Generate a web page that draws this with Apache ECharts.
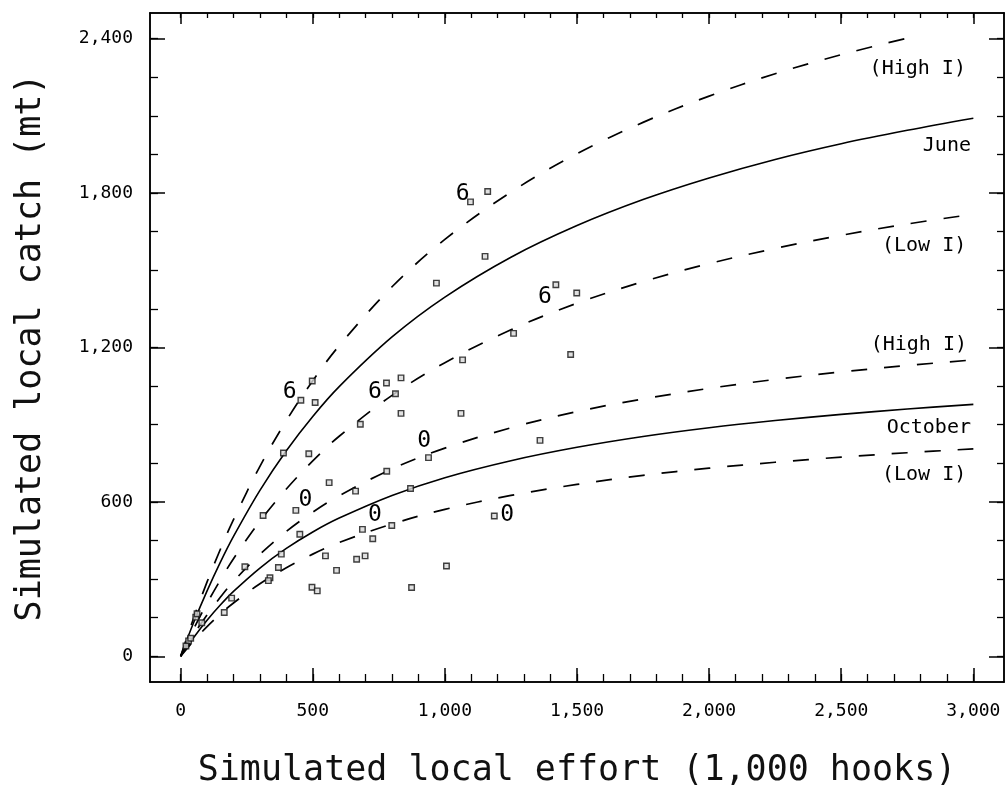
<!DOCTYPE html>
<html>
<head>
<meta charset="utf-8">
<script src="https://cdn.jsdelivr.net/npm/echarts@6/dist/echarts.min.js"></script>
<style>
  html, body { margin: 0; padding: 0; background: #fff; }
  #chart { width: 1007px; height: 790px; }
</style>
</head>
<body>
<div id="chart"></div>
<script>
// Effort values (1,000 hooks) at which the fitted curves are sampled
const effortGrid = [0, 50, 100, 150, 200, 300, 400, 500, 600, 800, 1000, 1250, 1500, 1750, 2000, 2250, 2500, 2750, 3000];
const juneHighEffort = [0, 50, 100, 150, 200, 300, 400, 500, 600, 800, 1000, 1250, 1500, 1750, 2000, 2250, 2500, 2780];

// Catch curves (mt)
const juneHigh   = [0, 151, 289, 415, 531, 738, 916, 1071, 1207, 1436, 1620, 1804, 1953, 2075, 2177, 2264, 2338, 2410];
const juneMid    = [0, 133, 254, 365, 466, 645, 799, 932, 1048, 1241, 1396, 1551, 1674, 1775, 1859, 1931, 1992, 2044, 2091];
const juneLow    = [0, 108, 206, 296, 379, 525, 650, 759, 855, 1014, 1141, 1269, 1372, 1456, 1526, 1585, 1636, 1680, 1718];
const octHigh    = [0, 85, 161, 229, 291, 396, 485, 560, 624, 728, 809, 888, 951, 1000, 1041, 1076, 1105, 1130, 1152];
const octMid     = [0, 74, 140, 199, 252, 343, 419, 483, 537, 625, 694, 760, 812, 854, 888, 916, 940, 961, 979];
const octLow     = [0, 61, 115, 164, 207, 282, 344, 397, 442, 514, 571, 625, 668, 703, 731, 754, 774, 791, 806];

// Simulated observations
const obsEffort = [498, 455, 509, 389, 485, 562, 436, 312, 779, 813, 834, 680, 834, 1061, 780, 662, 870,
                   968, 1420, 1499, 1260, 1476, 1067, 1152, 1162, 1097, 1360, 938, 451, 688, 799, 727, 1187,
                   381, 548, 698, 666, 243, 370, 590, 1006, 338, 332, 497, 517, 874, 193, 165, 57, 62, 80, 30, 38, 20];
const obsCatch  = [1070, 995, 986, 790, 787, 675, 567, 547, 1062, 1020, 1082, 902, 944, 944, 719, 642, 652,
                   1450, 1444, 1412, 1255, 1173, 1152, 1554, 1806, 1766, 839, 772, 474, 493, 508, 457, 545,
                   397, 390, 390, 377, 348, 345, 334, 351, 305, 294, 268, 254, 267, 226, 170, 152, 165, 130, 60, 70, 40];

// Month markers written beside selected observations
const tagEffort = [413, 735, 1067, 1379, 472, 922, 735, 1236];
const tagCatch  = [1026, 1026, 1796, 1395, 607, 836, 549, 549];
const tagText   = ['6', '6', '6', '6', '0', '0', '0', '0'];

// Curve names at the right-hand end
const curveNameEffort = [2972, 2991, 2973, 2976, 2991, 2973];
const curveNameCatch  = [2284, 1983, 1596, 1212, 886, 707];
const curveNameText   = ['(High I)', 'June', '(Low I)', '(High I)', 'October', '(Low I)'];

// Axis ticks and labels
const xMajorTicks = [0, 500, 1000, 1500, 2000, 2500, 3000];
const yMajorTicks = [0, 600, 1200, 1800, 2400];
const xMinorTicks = [];
for (let v = 0; v <= 3000; v += 100) xMinorTicks.push(v);
const yMinorTicks = [];
for (let v = 0; v <= 2400; v += 150) yMinorTicks.push(v);

const X_MIN = -116, X_MAX = 3116;
const Y_MIN = -100, Y_MAX = 2500;
const FONT = 'DejaVu Sans Mono';
const INK = '#000';

const zip = (xs, ys) => xs.map((x, i) => [x, ys[i]]);
const withComma = v => String(v).replace(/\B(?=(\d{3})+(?!\d))/g, ',');

function tickAxis(opts) {
  return Object.assign({
    type: 'value',
    gridIndex: 0,
    splitLine: { show: false },
    axisLine: { show: true, onZero: false, lineStyle: { color: INK, width: 1.5 } },
    axisLabel: { show: false },
    nameMoveOverlap: false
  }, opts);
}

const xAxes = [
  tickAxis({
    min: X_MIN, max: X_MAX, position: 'bottom',
    axisTick: { show: true, inside: true, length: 14, customValues: xMajorTicks, lineStyle: { color: INK, width: 1.5 } },
    axisLabel: { show: true, customValues: xMajorTicks, formatter: withComma, margin: 20,
                 fontFamily: FONT, fontSize: 18, color: INK },
    name: 'Simulated local effort (1,000 hooks)',
    nameLocation: 'middle', nameGap: 71,
    nameTextStyle: { fontFamily: FONT, fontSize: 35, color: '#111' }
  }),
  tickAxis({
    min: X_MIN, max: X_MAX, position: 'bottom',
    axisTick: { show: true, inside: true, length: 8, customValues: xMinorTicks, lineStyle: { color: INK, width: 1.3 } }
  }),
  tickAxis({
    min: X_MIN, max: X_MAX, position: 'top',
    axisTick: { show: true, inside: true, length: 11, customValues: xMajorTicks, lineStyle: { color: INK, width: 1.5 } }
  }),
  tickAxis({
    min: X_MIN, max: X_MAX, position: 'top',
    axisTick: { show: true, inside: true, length: 5, customValues: xMinorTicks, lineStyle: { color: INK, width: 1.3 } }
  })
];

const yAxes = [
  tickAxis({
    min: Y_MIN, max: Y_MAX, position: 'left',
    axisTick: { show: true, inside: true, length: 15, customValues: yMajorTicks, lineStyle: { color: INK, width: 1.5 } },
    axisLabel: { show: true, customValues: yMajorTicks, formatter: withComma, margin: 17,
                 fontFamily: FONT, fontSize: 18, color: INK },
    name: 'Simulated local catch (mt)',
    nameLocation: 'middle', nameGap: 102,
    nameTextStyle: { fontFamily: FONT, fontSize: 35, color: '#111' }
  }),
  tickAxis({
    min: Y_MIN, max: Y_MAX, position: 'left',
    axisTick: { show: true, inside: true, length: 8, customValues: yMinorTicks, lineStyle: { color: INK, width: 1.3 } }
  }),
  tickAxis({
    min: Y_MIN, max: Y_MAX, position: 'right',
    axisTick: { show: true, inside: true, length: 15, customValues: yMajorTicks, lineStyle: { color: INK, width: 1.5 } }
  }),
  tickAxis({
    min: Y_MIN, max: Y_MAX, position: 'right',
    axisTick: { show: true, inside: true, length: 7, customValues: yMinorTicks, lineStyle: { color: INK, width: 1.3 } }
  })
];

const DASH = [16, 17];
function curve(name, xs, ys, dashed) {
  return {
    name, type: 'line', xAxisIndex: 0, yAxisIndex: 0,
    data: zip(xs, ys), smooth: 0.35, showSymbol: false, silent: true,
    lineStyle: { color: INK, width: dashed ? 1.7 : 1.6, type: dashed ? DASH : 'solid' },
    z: 3
  };
}

// Plain text labels anchored at data coordinates
function textLabels(name, xs, ys, texts, size, align) {
  return {
    name, type: 'scatter', xAxisIndex: 0, yAxisIndex: 0,
    data: xs.map((x, i) => [x, ys[i], texts[i]]),
    symbolSize: 0, silent: true, z: 5,
    itemStyle: { color: INK },
    label: { show: true, position: [0, 0], align, verticalAlign: 'middle',
             formatter: p => p.value[2], fontFamily: FONT, fontSize: size,
             color: INK, textBorderWidth: 0, opacity: 1 }
  };
}

const option = {
  backgroundColor: '#fff',
  animation: false,
  grid: { left: 150, right: 3, top: 13, bottom: 108, containLabel: false, outerBoundsMode: 'none' },
  xAxis: xAxes,
  yAxis: yAxes,
  series: [
    curve('June (High I)', juneHighEffort, juneHigh, true),
    curve('June', effortGrid, juneMid, false),
    curve('June (Low I)', effortGrid, juneLow, true),
    curve('October (High I)', effortGrid, octHigh, true),
    curve('October', effortGrid, octMid, false),
    curve('October (Low I)', effortGrid, octLow, true),
    {
      name: 'Simulated', type: 'scatter', xAxisIndex: 0, yAxisIndex: 0,
      data: zip(obsEffort, obsCatch), symbol: 'rect', symbolSize: 5.5,
      itemStyle: { color: '#d8d8d8', borderColor: '#111', borderWidth: 1.4 }, z: 4
    },
    textLabels('Month', tagEffort, tagCatch, tagText, 23, 'center'),
    textLabels('Curve names', curveNameEffort, curveNameCatch, curveNameText, 20, 'right')
  ]
};

const chart = echarts.init(document.getElementById('chart'), null, { renderer: 'canvas' });
chart.setOption(option);
</script>
</body>
</html>
